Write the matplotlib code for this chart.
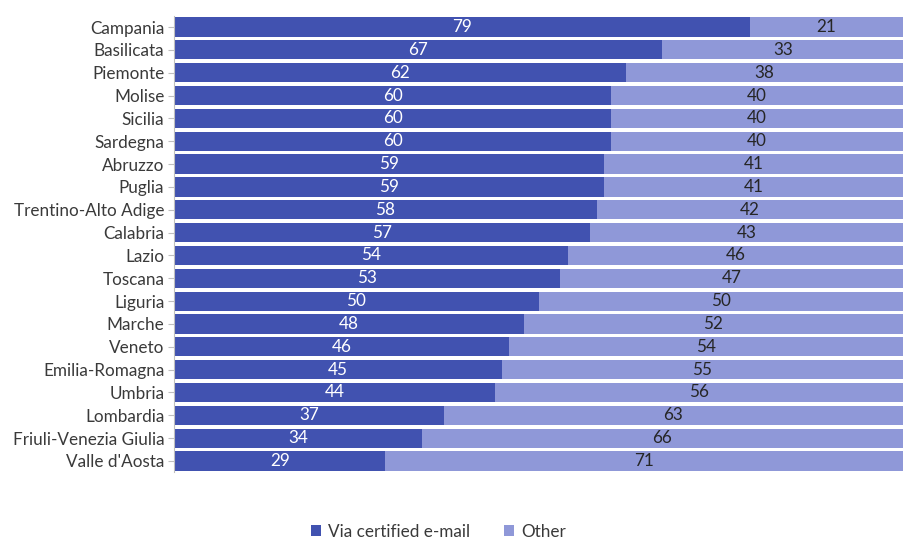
import numpy as np
import matplotlib.pyplot as plt

plt.rcParams['font.family'] = ['Lato', 'DejaVu Sans']

regions = ['Campania', 'Basilicata', 'Piemonte', 'Molise', 'Sicilia', 'Sardegna',
           'Abruzzo', 'Puglia', 'Trentino-Alto Adige', 'Calabria', 'Lazio', 'Toscana',
           'Liguria', 'Marche', 'Veneto', 'Emilia-Romagna', 'Umbria', 'Lombardia',
           'Friuli-Venezia Giulia', "Valle d'Aosta"]
pec = [79, 67, 62, 60, 60, 60, 59, 59, 58, 57, 54, 53, 50, 48, 46, 45, 44, 37, 34, 29]
other = [21, 33, 38, 40, 40, 40, 41, 41, 42, 43, 46, 47, 50, 52, 54, 55, 56, 63, 66, 71]

dark = '#4152B0'
light = '#8F98D8'
fs = 12.3

fig = plt.figure(figsize=(9.04, 5.39), dpi=100)
ax = fig.add_axes([0.1925, 0.1236, 0.8064, 0.8474])

y = np.arange(len(regions))
b1 = ax.barh(y, pec, height=0.84, color=dark, label='Via certified e-mail')
b2 = ax.barh(y, other, left=pec, height=0.84, color=light, label='Other')

for i in range(len(regions)):
    ax.text(pec[i] / 2, y[i], str(pec[i]), ha='center', va='center',
            color='white', fontsize=fs)
    ax.text(pec[i] + other[i] / 2, y[i], str(other[i]), ha='center', va='center',
            color='#262626', fontsize=fs)

ax.set_xlim(0, 100)
ax.set_ylim(len(regions) - 0.5, -0.5)
ax.set_yticks(y)
ax.set_yticklabels(regions, fontsize=fs, color='#3a3a3a')
ax.tick_params(axis='y', length=4, color='#bfbfbf', pad=3)
ax.set_xticks([])
for s in ['top', 'right', 'bottom']:
    ax.spines[s].set_visible(False)
ax.spines['left'].set_color('#bfbfbf')

fig.legend(handles=[b1, b2], loc='lower center', bbox_to_anchor=(0.485, -0.03),
           ncol=2, frameon=False, fontsize=fs, handlelength=0.6, handleheight=0.6,
           columnspacing=2.0, handletextpad=0.4, labelcolor='#3a3a3a')

fig.savefig('out.png', dpi=100)
